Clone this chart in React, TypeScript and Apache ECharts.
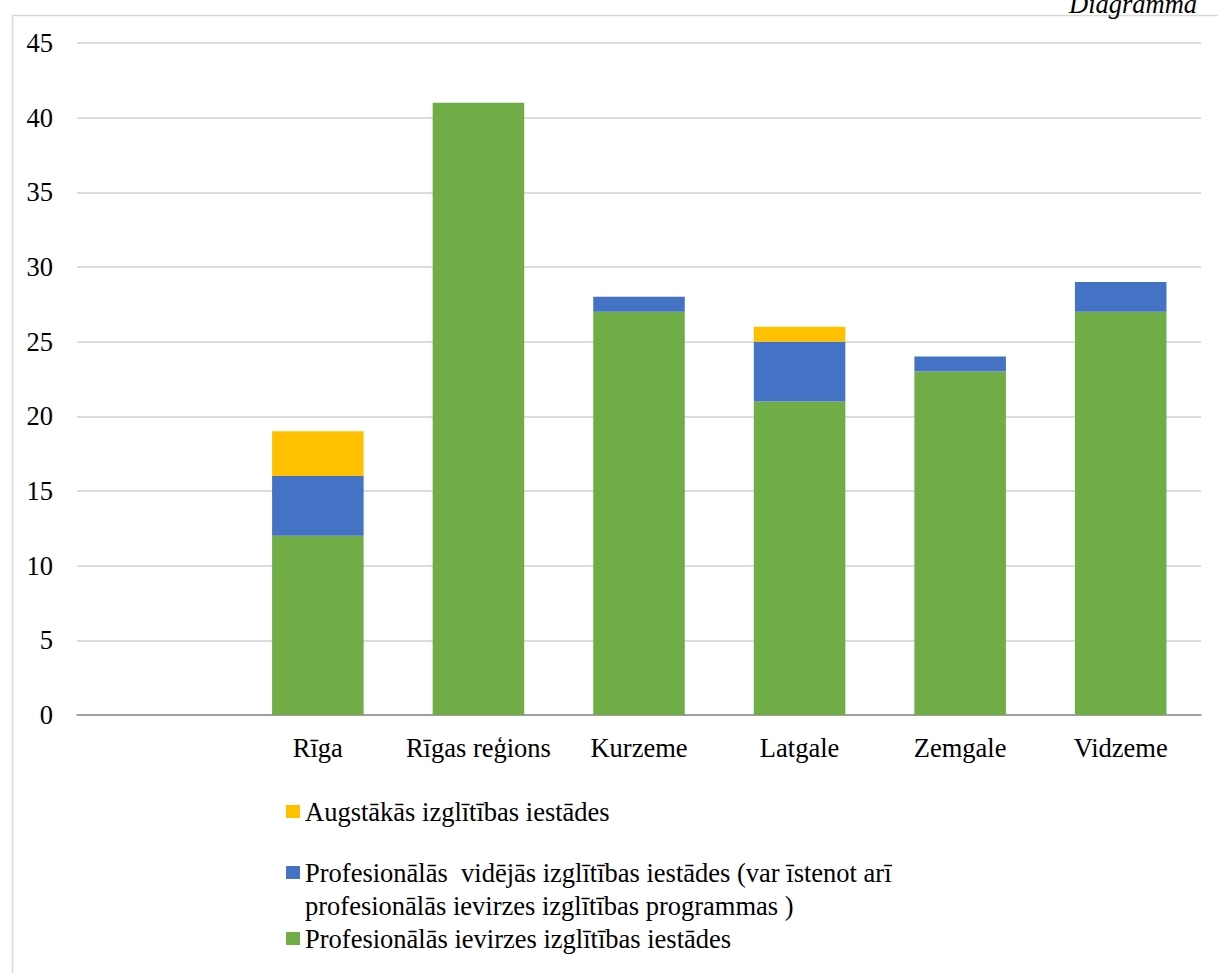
import React, { useEffect, useRef } from "react";
import * as echarts from "echarts";

const categories = ["", "Rīga", "Rīgas reģions", "Kurzeme", "Latgale", "Zemgale", "Vidzeme"];
const greenValues = [null, 12, 41, 27, 21, 23, 27];
const blueValues = [null, 4, null, 1, 4, 1, 2];
const yellowValues = [null, 3, null, null, 1, null, null];
const seriesNames = [
  "Profesionālās ievirzes izglītības iestādes",
  "Profesionālās  vidējās izglītības iestādes (var īstenot arī profesionālās ievirzes izglītības programmas )",
  "Augstākās izglītības iestādes",
];
const blueLine1 = "Profesionālās  vidējās izglītības iestādes (var īstenot arī";
const blueLine2 = "profesionālās ievirzes izglītības programmas )";
const yTicks = { min: 0, max: 45, interval: 5 };

const FONT = "Liberation Serif";
const FS = 26.5;

export default function App() {
  const ref = useRef<HTMLDivElement>(null);
  useEffect(() => {
    if (!ref.current) return;
    const chart = echarts.init(ref.current, undefined, { renderer: "svg" });
    const legendBase = {
      orient: "vertical" as const,
      left: 286,
      itemWidth: 14,
      itemHeight: 13,
      icon: "rect",
      itemGap: 0,
      padding: 0,
      textStyle: { fontFamily: FONT, fontSize: FS, color: "#000" },
      selectedMode: false,
    };
    chart.setOption({
      animation: false,
      textStyle: { fontFamily: FONT },
      grid: { left: 77, right: 17, top: 43, bottom: 258 },
      xAxis: {
        type: "category",
        data: categories,
        axisLine: { lineStyle: { color: "#8c8c8c", width: 1.5 } },
        axisTick: { show: false },
        axisLabel: { fontFamily: FONT, fontSize: FS, color: "#000", margin: 19, interval: 0 },
      },
      yAxis: {
        type: "value",
        min: yTicks.min,
        max: yTicks.max,
        interval: yTicks.interval,
        axisLine: { show: false },
        axisTick: { show: false },
        axisLabel: { fontFamily: FONT, fontSize: FS, color: "#000", margin: 24 },
        splitLine: { lineStyle: { color: "#d0d0d0", width: 1.5 } },
      },
      legend: [
        { ...legendBase, top: 798, data: [seriesNames[2]] },
        { ...legendBase, top: 859, data: [seriesNames[1]], formatter: () => blueLine1 },
        { ...legendBase, top: 925, data: [seriesNames[0]] },
      ],
      graphic: [
        {
          type: "rect",
          left: 10,
          top: 13,
          shape: { width: 1230, height: 990 },
          style: { fill: "none", stroke: "#d9d9d9", lineWidth: 1.5 },
          silent: true,
        },
        {
          type: "text",
          left: 305,
          top: 892,
          style: { text: blueLine2, fontFamily: FONT, fontSize: FS, fill: "#000" },
        },
        {
          type: "text",
          left: 1069,
          top: -10,
          style: { text: "Diagramma", fontFamily: FONT, fontStyle: "italic", fontSize: FS, fill: "#000" },
        },
      ],
      series: [
        { name: seriesNames[0], type: "bar", stack: "a", data: greenValues, barWidth: "57%", itemStyle: { color: "#70AD47" } },
        { name: seriesNames[1], type: "bar", stack: "a", data: blueValues, itemStyle: { color: "#4472C4" } },
        { name: seriesNames[2], type: "bar", stack: "a", data: yellowValues, itemStyle: { color: "#FFC000" } },
      ],
    });
    return () => chart.dispose();
  }, []);
  return (
    <div
      ref={ref}
      style={{ position: "fixed", left: 0, top: 0, width: 1218, height: 973, background: "#fff" }}
    />
  );
}
